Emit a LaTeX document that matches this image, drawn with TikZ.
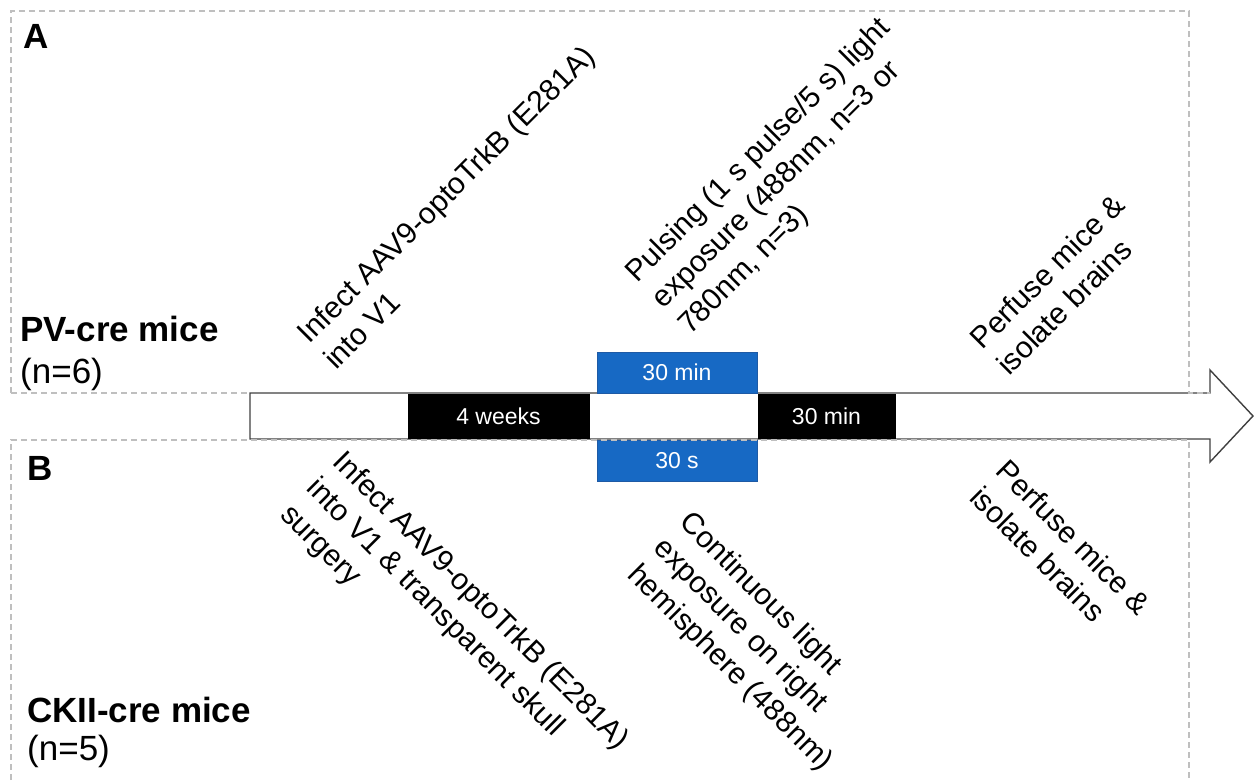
\documentclass[tikz,border=0pt]{standalone}
\usepackage{fontspec}
\setmainfont{Liberation Sans}
\definecolor{panelgray}{HTML}{BFBFBF}
\definecolor{stepblue}{RGB}{23,105,196}
\definecolor{stepblueedge}{RGB}{30,90,165}
\definecolor{arrowedge}{HTML}{404040}
\begin{document}
\begin{tikzpicture}[x=1pt,y=-1pt,
  panel/.style={draw=panelgray, line width=1.3pt, dash pattern=on 6pt off 4pt},
  arrowbody/.style={draw=arrowedge, fill=white, line width=1.4pt, line join=miter},
  blackstep/.style={fill=black, draw=black, text=white, inner sep=0pt,
    minimum height=44pt, font=\fontsize{23}{27}\selectfont},
  bluestep/.style={fill=stepblue, draw=stepblueedge, line width=0.8pt, text=white, inner sep=0pt,
    minimum width=160pt, minimum height=41pt, font=\fontsize{23}{27}\selectfont},
  rottext/.style={inner sep=0pt, font=\fontsize{30}{37}\selectfont, anchor=base west, align=left},
  paneltag/.style={inner sep=0pt, anchor=base west, font=\fontsize{35}{40}\selectfont\bfseries},
  groupname/.style={inner sep=0pt, anchor=base west, font=\fontsize{35}{40}\selectfont\bfseries},
  groupn/.style={inner sep=0pt, anchor=base west, font=\fontsize{35}{40}\selectfont}
]
\useasboundingbox (0,0) rectangle (1254,780);
\begin{scope}
\clip (0,0) rectangle (1254,780);

% timeline arrow
\draw[arrowbody] (250,393) -- (1210,393) -- (1210,370) -- (1253,416) -- (1210,462) -- (1210,439) -- (250,439) -- cycle;

% steps on the timeline
\node[blackstep, minimum width=181pt] (w4) at (498.5,416) {4 weeks};
\node[blackstep, minimum width=137pt] (m30b) at (826.5,416) {30 min};
\node[bluestep] (m30) at (677,372.5) {30 min};
\node[bluestep] (s30) at (677,460.5) {30 s};

% panels
\draw[panel] (11,393) -- (11,11) -- (1189,11) -- (1189,393) -- (1210,393);
\draw[panel] (11,800) -- (11,440) -- (1189,440) -- (1189,800);
\draw[panel] (11,393) -- (250,393);
\draw[panel] (11,440) -- (250,440);
\end{scope}

% panel tags
\node[paneltag] (tagA) at (23,48) {A};
\node[paneltag] (tagB) at (27,480) {B};

% group labels
\node[groupname] (pv) at (20,341) {PV-cre mice};
\node[groupn] (pvn) at (20,383) {(n=6)};
\node[groupname] (ck) at (27,722) {CKII-cre mice};
\node[groupn] (ckn) at (27,760) {(n=5)};

% panel A texts (anchor = start of last line's baseline)
\node[rottext, rotate=45] (a1) at (336,371) {Infect AAV9-optoTrkB (E281A)\\into V1};
\node[rottext, rotate=45] (a2) at (690,336) {Pulsing (1 s pulse/5 s) light\\exposure (488nm, n=3 or\\780nm, n=3)};
\node[rottext, rotate=45] (a3) at (1009,377) {Perfuse mice \&\\isolate brains};

% panel B texts
\node[rottext, rotate=-45] (b1) at (279,516) {Infect AAV9-optoTrkB (E281A)\\into V1 \& transparent skull\\surgery};
\node[rottext, rotate=-45] (b2) at (626,576) {Continuous light\\exposure on right\\hemisphere (488nm)};
\node[rottext, rotate=-45] (b3) at (968,499) {Perfuse mice \&\\isolate brains};
\end{tikzpicture}
\end{document}
